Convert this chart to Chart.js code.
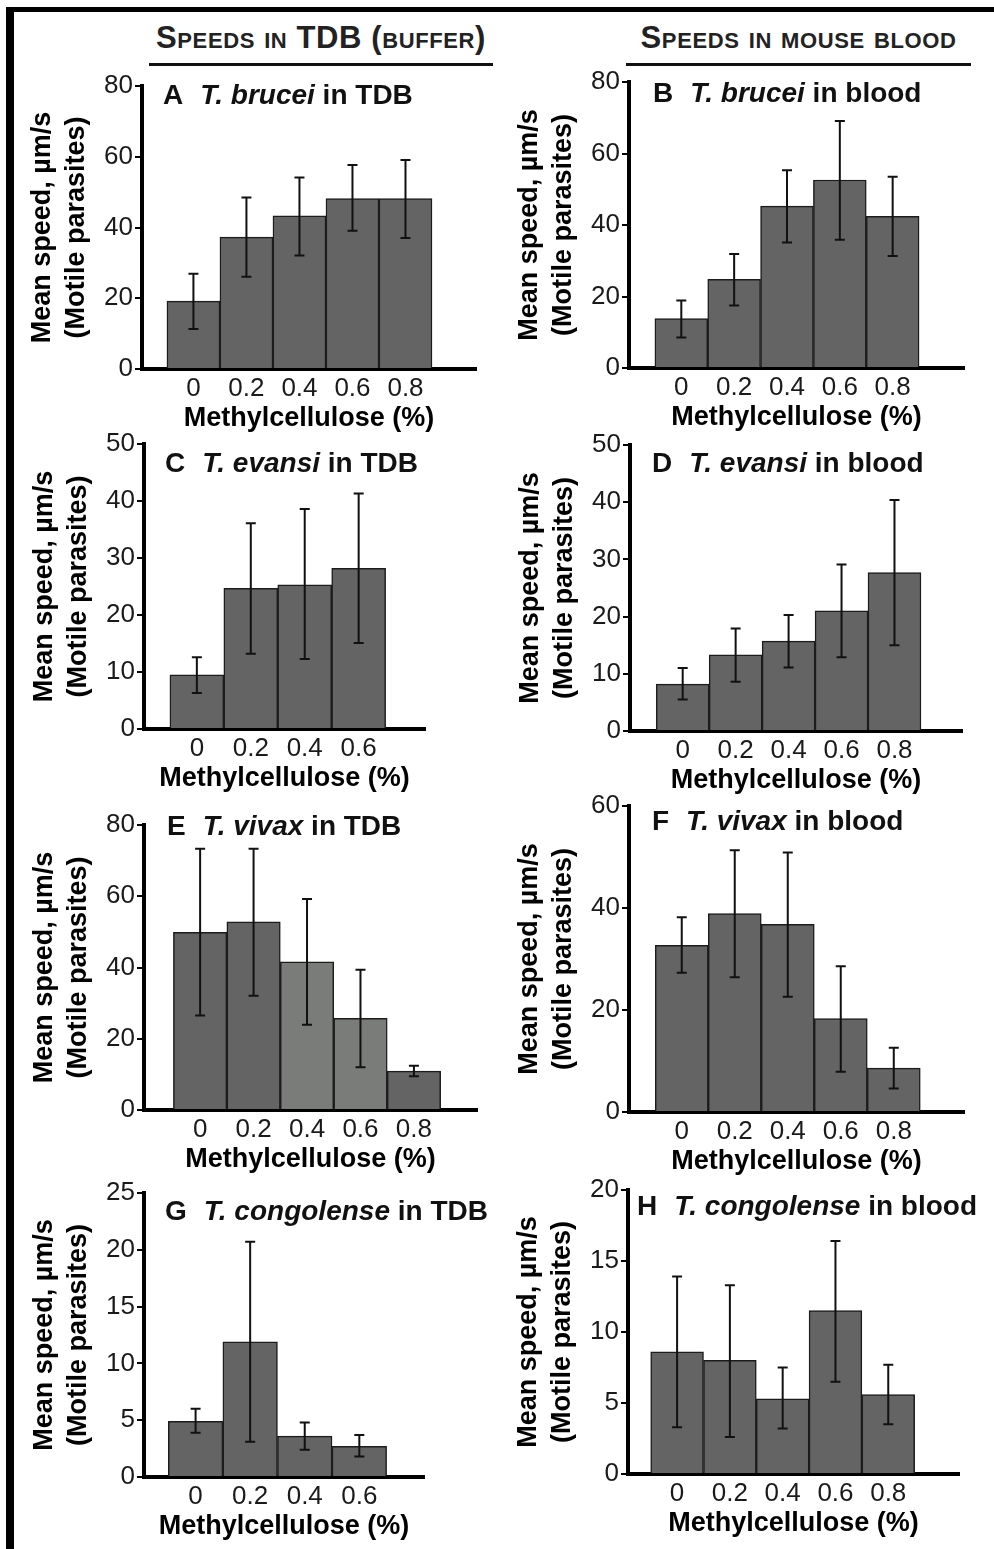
<!DOCTYPE html>
<html>
<head>
<meta charset="utf-8">
<script src="https://cdn.jsdelivr.net/npm/chart.js@4"></script>
<style>
body { margin: 0; background: #fff; width: 994px; height: 1549px; position: relative; overflow: hidden; font-family: 'Liberation Sans', Arial, sans-serif; }
.frame-left { position: absolute; left: 6px; top: 7px; width: 8px; height: 1542px; background: #000; }
.frame-top { position: absolute; left: 6px; top: 7px; width: 988px; height: 5px; background: #000; }
.head { position: absolute; top: 22px; height: 31px; line-height: 31px; text-align: center; font-weight: bold; font-size: 31px; font-variant: small-caps; letter-spacing: 0.6px; color: #222; white-space: nowrap; }
.rule { position: absolute; top: 63px; height: 3px; background: #111; }
canvas { position: absolute; }
</style>
</head>
<body>
<div class="frame-left"></div>
<div class="frame-top"></div>
<div class="head" style="left:149px;width:344px">Speeds in TDB (buffer)</div>
<div class="rule" style="left:149px;width:344px"></div>
<div class="head" style="left:626px;width:345px">Speeds in mouse blood</div>
<div class="rule" style="left:626px;width:345px"></div>
<script>
// methylcellulose concentrations (%)
const doses5 = [0, 0.2, 0.4, 0.6, 0.8];
const doses4 = [0, 0.2, 0.4, 0.6];
const doseLabels = ['0', '0.2', '0.4', '0.6', '0.8'];

// mean speeds and error bar ends, µm/s
const bruceiTdbMean = [19.2, 37.3, 43.3, 48.2, 48.2];
const bruceiTdbLow = [11.3, 26.1, 32.1, 39.1, 37.0];
const bruceiTdbHigh = [26.9, 48.5, 54.1, 57.7, 59.1];

const bruceiBloodMean = [13.8, 24.8, 45.3, 52.6, 42.4];
const bruceiBloodLow = [8.5, 17.5, 35.1, 35.9, 31.3];
const bruceiBloodHigh = [18.9, 31.9, 55.3, 69.1, 53.5];

const evansiTdbMean = [9.5, 24.7, 25.3, 28.2];
const evansiTdbLow = [6.3, 13.2, 12.3, 15.1];
const evansiTdbHigh = [12.6, 36.1, 38.6, 41.3];

const evansiBloodMean = [8.2, 13.3, 15.7, 21.0, 27.7];
const evansiBloodLow = [5.5, 8.6, 11.1, 12.9, 15.0];
const evansiBloodHigh = [11.0, 17.9, 20.3, 29.1, 40.4];

const vivaxTdbMean = [49.9, 52.8, 41.6, 25.7, 10.9];
const vivaxTdbLow = [26.5, 32.1, 23.9, 12.0, 9.5];
const vivaxTdbHigh = [73.3, 73.3, 59.2, 39.4, 12.4];

const vivaxBloodMean = [32.7, 38.9, 36.8, 18.3, 8.6];
const vivaxBloodLow = [27.3, 26.4, 22.6, 7.9, 4.6];
const vivaxBloodHigh = [38.2, 51.3, 50.9, 28.6, 12.6];

const congoTdbMean = [4.9, 11.9, 3.6, 2.7];
const congoTdbLow = [3.9, 3.1, 2.4, 1.8];
const congoTdbHigh = [6.0, 20.7, 4.8, 3.7];

const congoBloodMean = [8.6, 8.0, 5.3, 11.5, 5.6];
const congoBloodLow = [3.3, 2.6, 3.2, 6.5, 3.5];
const congoBloodHigh = [13.9, 13.3, 7.5, 16.4, 7.7];

const DARK = '#646464';
const LIGHT = '#7a7c79';
const FONT = "'Liberation Sans', Arial, sans-serif";
Chart.defaults.font.family = FONT;

const panels = [
    { letter: 'A', species: 'T. brucei', medium: ' in TDB', doses: doses5, mean: bruceiTdbMean, low: bruceiTdbLow, high: bruceiTdbHigh,
      yMax: 80, yStep: 20, xMin: -0.194, xMax: 1.066, axisX: 142, topY: 86, zeroY: 369, rightX: 476, canvasRight: 494, dx: 21, dy: 18 },
    { letter: 'B', species: 'T. brucei', medium: ' in blood', doses: doses5, mean: bruceiBloodMean, low: bruceiBloodLow, high: bruceiBloodHigh,
      yMax: 80, yStep: 20, xMin: -0.198, xMax: 1.07, axisX: 629, topY: 82, zeroY: 368, rightX: 964, canvasRight: 994, dx: 24, dy: 20 },
    { letter: 'C', species: 'T. evansi', medium: ' in TDB', doses: doses4, mean: evansiTdbMean, low: evansiTdbLow, high: evansiTdbHigh,
      yMax: 50, yStep: 10, xMin: -0.196, xMax: 0.846, axisX: 144, topY: 444, zeroY: 729, rightX: 425, canvasRight: 494, dx: 21, dy: 28 },
    { letter: 'D', species: 'T. evansi', medium: ' in blood', doses: doses5, mean: evansiBloodMean, low: evansiBloodLow, high: evansiBloodHigh,
      yMax: 50, yStep: 10, xMin: -0.199, xMax: 1.055, axisX: 630, topY: 445, zeroY: 731, rightX: 962, canvasRight: 994, dx: 22, dy: 27 },
    { letter: 'E', species: 'T. vivax', medium: ' in TDB', doses: doses5, mean: vivaxTdbMean, low: vivaxTdbLow, high: vivaxTdbHigh,
      colors: [DARK, DARK, LIGHT, LIGHT, DARK],
      yMax: 80, yStep: 20, xMin: -0.21, xMax: 1.036, axisX: 144, topY: 825, zeroY: 1110, rightX: 477, canvasRight: 494, dx: 23, dy: 10 },
    { letter: 'F', species: 'T. vivax', medium: ' in blood', doses: doses5, mean: vivaxBloodMean, low: vivaxBloodLow, high: vivaxBloodHigh,
      yMax: 60, yStep: 20, xMin: -0.199, xMax: 1.065, axisX: 629, topY: 806, zeroY: 1112, rightX: 964, canvasRight: 994, dx: 23, dy: 24 },
    { letter: 'G', species: 'T. congolense', medium: ' in TDB', doses: doses4, mean: congoTdbMean, low: congoTdbLow, high: congoTdbHigh,
      yMax: 25, yStep: 5, xMin: -0.189, xMax: 0.837, axisX: 144, topY: 1193, zeroY: 1477, rightX: 424, canvasRight: 494, dx: 21, dy: 27 },
    { letter: 'H', species: 'T. congolense', medium: ' in blood', doses: doses5, mean: congoBloodMean, low: congoBloodLow, high: congoBloodHigh,
      yMax: 20, yStep: 5, xMin: -0.186, xMax: 1.068, axisX: 628, topY: 1190, zeroY: 1474, rightX: 959, canvasRight: 994, dx: 9, dy: 25 }
];

// vertical error bars with caps
const errorBars = {
    id: 'errorBars',
    afterDatasetsDraw(chart, args, opts) {
        const ctx = chart.ctx;
        const y = chart.scales.y;
        ctx.save();
        ctx.strokeStyle = '#111';
        ctx.lineWidth = 2;
        chart.getDatasetMeta(0).data.forEach((bar, i) => {
            const yHi = y.getPixelForValue(opts.high[i]);
            const yLo = y.getPixelForValue(opts.low[i]);
            ctx.beginPath();
            ctx.moveTo(bar.x, yHi); ctx.lineTo(bar.x, yLo);
            ctx.moveTo(bar.x - 5, yHi); ctx.lineTo(bar.x + 5, yHi);
            ctx.moveTo(bar.x - 5, yLo); ctx.lineTo(bar.x + 5, yLo);
            ctx.stroke();
        });
        ctx.restore();
    }
};

// panel heading: letter, italic species, medium
const panelTitle = {
    id: 'panelTitle',
    afterDraw(chart, args, opts) {
        const ctx = chart.ctx;
        const area = chart.chartArea;
        let x = area.left + opts.dx;
        const y = area.top + opts.dy;
        ctx.save();
        ctx.fillStyle = '#111';
        ctx.textBaseline = 'alphabetic';
        ctx.font = 'bold 28px ' + FONT;
        ctx.fillText(opts.letter, x, y);
        x += ctx.measureText(opts.letter).width + 17;
        ctx.font = 'italic bold 28px ' + FONT;
        ctx.fillText(opts.species, x, y);
        x += ctx.measureText(opts.species).width;
        ctx.font = 'bold 28px ' + FONT;
        ctx.fillText(opts.medium, x, y);
        ctx.restore();
    }
};

const padTop = 22;
const yAxisWidth = 116;
const xAxisHeight = 66;

panels.forEach(p => {
    const left = p.axisX - yAxisWidth;
    const top = p.topY - padTop;
    const width = p.canvasRight - left;
    const height = padTop + (p.zeroY - p.topY) + xAxisHeight;
    const canvas = document.createElement('canvas');
    canvas.width = width;
    canvas.height = height;
    canvas.style.left = left + 'px';
    canvas.style.top = top + 'px';
    document.body.appendChild(canvas);

    new Chart(canvas, {
        type: 'bar',
        data: {
            datasets: [{
                data: p.doses.map((d, i) => ({ x: d, y: p.mean[i] })),
                backgroundColor: p.colors || DARK,
                borderColor: '#1c1c1c',
                borderWidth: 1.5,
                barPercentage: 1,
                categoryPercentage: 1
            }]
        },
        options: {
            responsive: false,
            animation: false,
            events: [],
            layout: { padding: { top: padTop, right: p.canvasRight - p.rightX, left: 0, bottom: 0 } },
            plugins: {
                legend: { display: false },
                tooltip: { enabled: false },
                errorBars: { low: p.low, high: p.high },
                panelTitle: { letter: p.letter, species: p.species, medium: p.medium, dx: p.dx, dy: p.dy }
            },
            scales: {
                x: {
                    type: 'linear',
                    offset: false,
                    min: p.xMin,
                    max: p.xMax,
                    afterBuildTicks: s => { s.ticks = p.doses.map(v => ({ value: v })); },
                    afterFit: s => { s.height = xAxisHeight; },
                    grid: { display: false, drawTicks: false, offset: false },
                    border: { display: true, color: '#000', width: 4 },
                    ticks: {
                        color: '#1a1a1a', font: { size: 26 }, padding: 4, autoSkip: false, maxRotation: 0,
                        callback: (v, i) => doseLabels[i]
                    },
                    title: { display: true, text: 'Methylcellulose (%)', color: '#000', font: { size: 27, weight: 'bold' }, padding: 0 }
                },
                y: {
                    min: 0,
                    max: p.yMax,
                    afterFit: s => { s.width = yAxisWidth; },
                    ticks: { stepSize: p.yStep, color: '#1a1a1a', font: { size: 26 }, padding: 2 },
                    grid: { drawOnChartArea: false, drawTicks: true, tickLength: 7, color: '#000', lineWidth: 2 },
                    border: { display: true, color: '#000', width: 4 },
                    title: {
                        display: true, text: ['Mean speed, µm/s', '(Motile parasites)'], color: '#000',
                        font: { size: 27, weight: 'bold', lineHeight: 1.24 }, padding: { top: 0, bottom: 0 }
                    }
                }
            }
        },
        plugins: [errorBars, panelTitle]
    });
});
</script>
</body>
</html>
